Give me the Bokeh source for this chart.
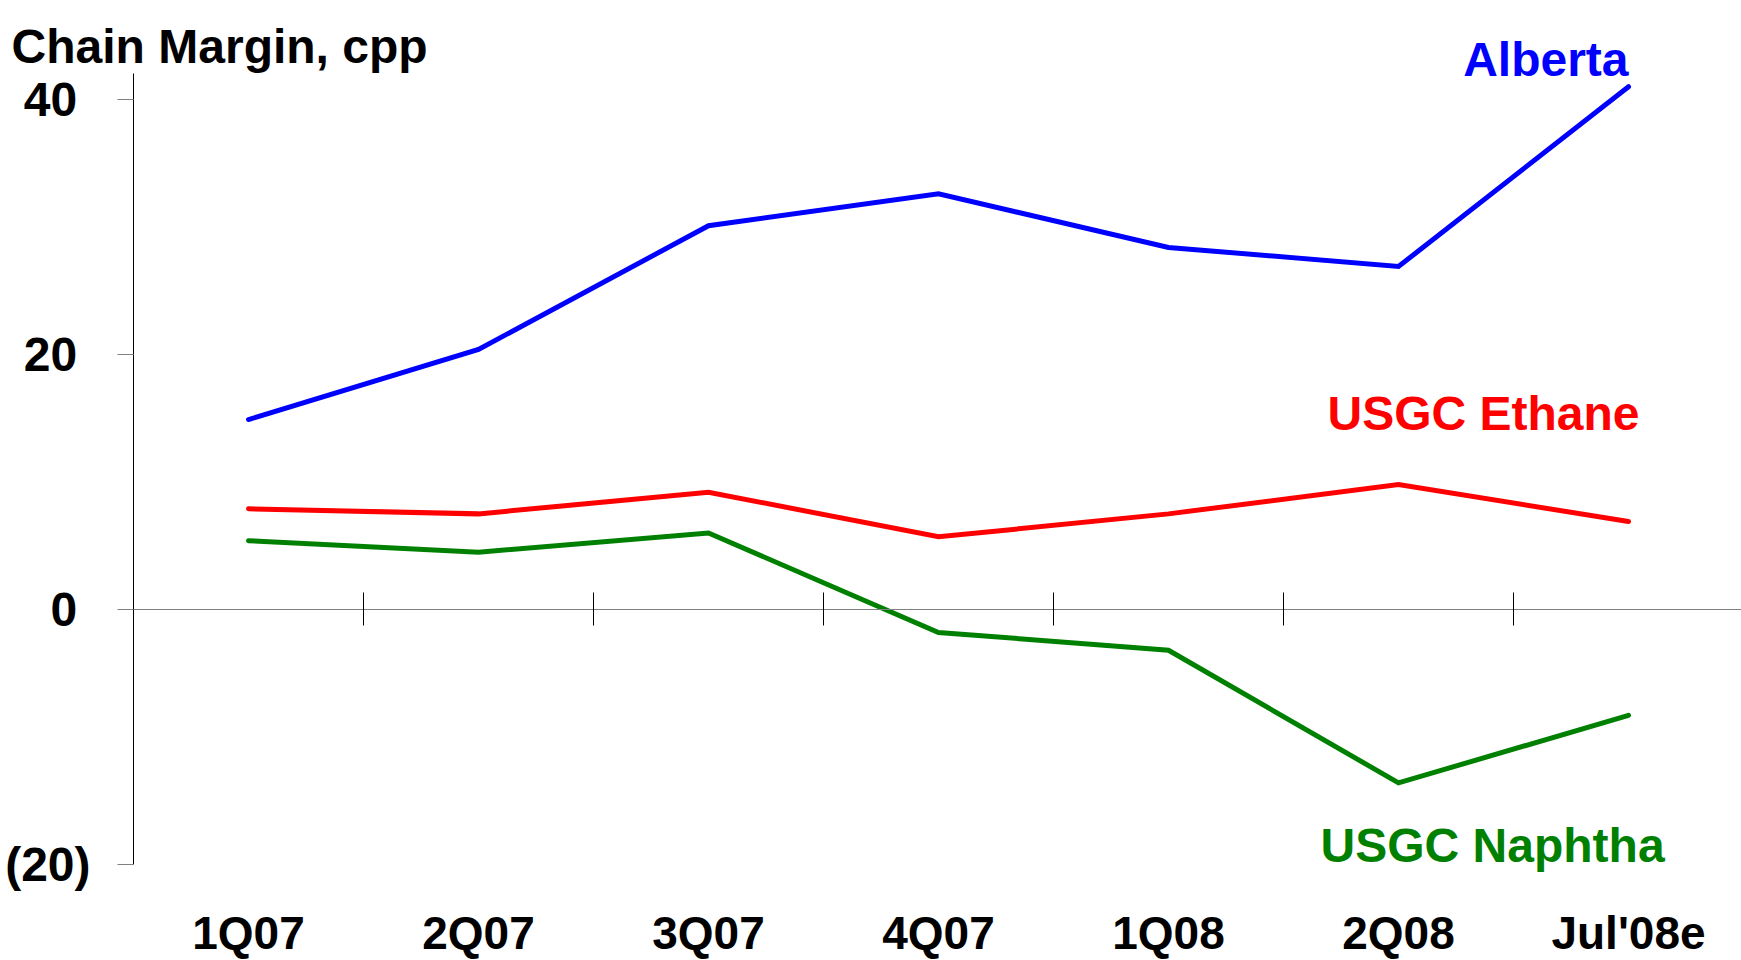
from bokeh.plotting import figure
from bokeh.models import Range1d, LinearAxis, FixedTicker, Label
from bokeh.embed import file_html
from bokeh.resources import INLINE

# ---- data ----
categories = ["1Q07", "2Q07", "3Q07", "4Q07", "1Q08", "2Q08", "Jul'08e"]
alberta = [14.9, 20.4, 30.1, 32.6, 28.4, 26.9, 41.0]
usgc_ethane = [7.9, 7.5, 9.2, 5.7, 7.5, 9.8, 6.9]
usgc_naphtha = [5.4, 4.5, 6.0, -1.8, -3.2, -13.6, -8.3]
y_ticks = [-20, 0, 20, 40]
y_tick_labels = ["(20)", "0", "20", "40"]
title_text = "Chain Margin, cpp"

FONT = "Liberation Sans"
Y_TOP = 42.06         # top of the value axis
X_END = 6.9913        # right edge of the plotting area (category units)

xs = [i + 0.5 for i in range(len(categories))]
boundaries = [i for i in range(1, len(categories))]

p = figure(width=1741, height=960, output_backend="svg", toolbar_location=None,
           x_range=Range1d(-0.5783, X_END), y_range=Range1d(-27.53, 47.765),
           x_axis_location=None, y_axis_location=None,
           min_border_left=0, min_border_right=0, min_border_top=0, min_border_bottom=0,
           background_fill_color="white", border_fill_color="white")
p.outline_line_color = None
p.xgrid.visible = False
p.ygrid.visible = False

# y axis (fixed at the left edge of the category area)
overrides = {}
for v, t in zip(y_ticks, y_tick_labels):
    overrides[v] = t if t.startswith("(") else t + "\u2008"
yax = LinearAxis(fixed_location=0, ticker=FixedTicker(ticks=y_ticks), bounds=(min(y_ticks), Y_TOP),
                 major_label_overrides=overrides,
                 axis_line_color="black", axis_line_width=1,
                 major_tick_line_color="#808080", major_tick_out=16, major_tick_in=0,
                 minor_tick_line_color=None, major_label_standoff=27,
                 major_label_text_font=FONT, major_label_text_font_size="48px",
                 major_label_text_font_style="bold", major_label_text_color="black")
p.add_layout(yax, "left")

# category labels at bottom
xlab = LinearAxis(fixed_location=-23.3, ticker=FixedTicker(ticks=xs),
                  major_label_overrides={x: c for x, c in zip(xs, categories)},
                  axis_line_color=None, major_tick_line_color=None, minor_tick_line_color=None,
                  major_tick_in=0, major_tick_out=0, major_label_standoff=0,
                  major_label_text_font=FONT, major_label_text_font_size="46px",
                  major_label_text_font_style="bold", major_label_text_color="black")
p.add_layout(xlab, "below")

# zero line with category-boundary ticks
zax = LinearAxis(fixed_location=0, ticker=FixedTicker(ticks=boundaries), bounds=(0, X_END),
                 major_label_overrides={b: "" for b in boundaries},
                 axis_line_color="#808080", axis_line_width=1,
                 major_tick_line_color="black", major_tick_out=17, major_tick_in=16,
                 minor_tick_line_color=None, major_label_text_font_size="0px")
p.add_layout(zax, "above")

# series
for vals, col in [(alberta, "#0000FF"), (usgc_ethane, "#FF0000"), (usgc_naphtha, "#008000")]:
    p.line(xs, vals, line_width=5, line_color=col, line_cap="round", line_join="miter")

# labels
p.add_layout(Label(x=-0.530, y=44.16, text=title_text, text_font=FONT, text_font_size="48px",
                   text_font_style="bold", text_color="black", text_align="left",
                   text_baseline="alphabetic"))
p.add_layout(Label(x=xs[-1], y=43.14, text="Alberta", text_font=FONT, text_font_size="48px",
                   text_font_style="bold", text_color="#0000FF", text_align="right",
                   text_baseline="alphabetic"))
p.add_layout(Label(x=6.548, y=15.35, text="USGC Ethane", text_font=FONT, text_font_size="48px",
                   text_font_style="bold", text_color="#FF0000", text_align="right",
                   text_baseline="alphabetic"))
p.add_layout(Label(x=6.657, y=-18.51, text="USGC Naphtha", text_font=FONT, text_font_size="48px",
                   text_font_style="bold", text_color="#008000", text_align="right",
                   text_baseline="alphabetic"))

open("out.html", "w").write(file_html(p, INLINE))
